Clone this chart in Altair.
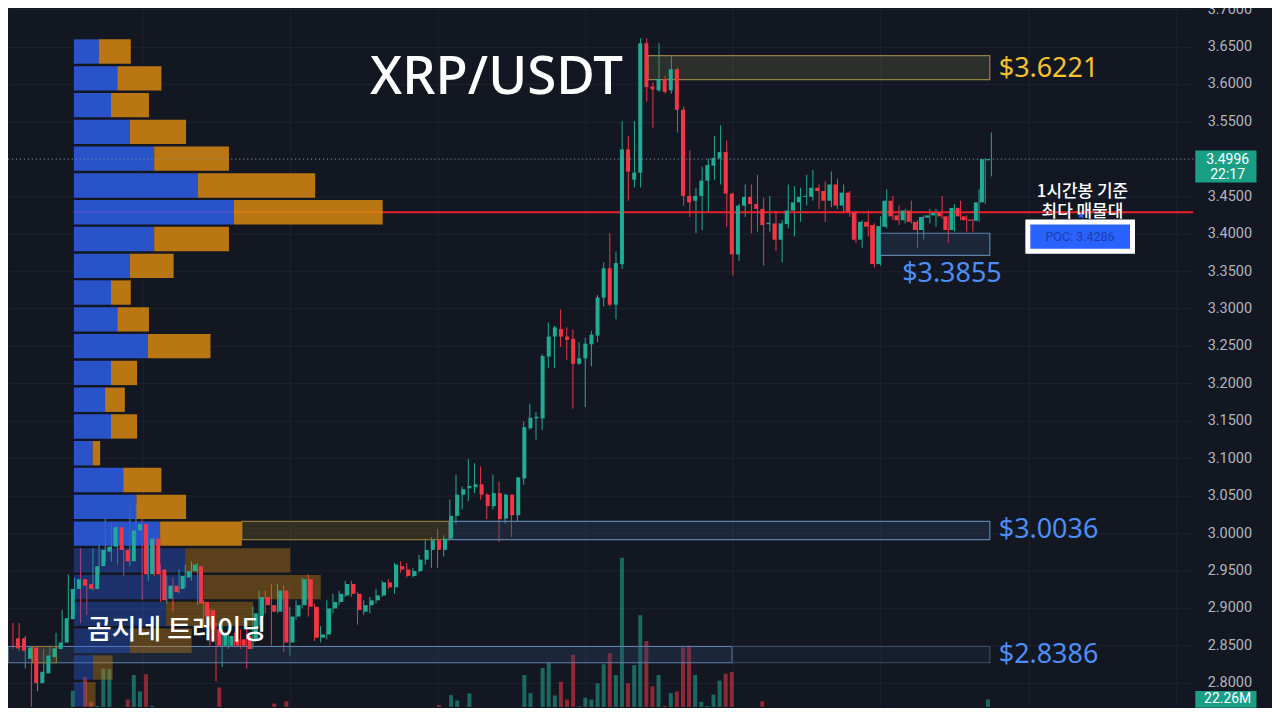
import altair as alt
import pandas as pd

# ---------------- data ----------------
opens = [
    2.8593, 2.8593, 2.8320, 2.8472, 2.7994, 2.8125, 2.8342, 2.8450, 2.8537, 2.8849,
    2.9253, 2.9383, 2.9318, 2.9253, 2.9557, 2.9752, 2.9817, 3.0078, 2.9774, 2.9622,
    3.0034, 3.0121, 2.9448, 2.9926, 2.9513, 2.9123, 2.9296, 2.9253, 2.9405, 2.9492,
    2.9557, 2.9079, 2.8971, 2.8711, 2.8494, 2.8494, 2.8580, 2.8580, 2.8624, 2.8580,
    2.8884, 2.9145, 2.9036, 2.8949, 2.9231, 2.8537, 2.8884, 2.9036, 2.9383, 2.9014,
    2.8602, 2.8645, 2.8993, 2.9079, 2.9166, 2.9318, 2.9188, 2.8949, 2.9036, 2.9101,
    2.9166, 2.9340, 2.9275, 2.9557, 2.9513, 2.9427, 2.9492, 2.9644, 2.9774, 2.9904,
    2.9774, 2.9926, 3.0230, 3.0512, 3.0598, 3.0612, 3.0651, 3.0512, 3.0360, 3.0533,
    3.0195, 3.0512, 3.0238, 3.0729, 3.1401, 3.1532, 3.1532, 3.2356, 3.2625, 3.2725,
    3.2625, 3.2595, 3.2261, 3.2334, 3.2521, 3.2638, 3.3146, 3.3537, 3.3051, 3.3592,
    3.5125, 3.4721, 3.4813, 3.6544, 3.5967, 3.5915, 3.6066, 3.5915, 3.6197, 3.5655,
    3.4504, 3.4439, 3.4504, 3.4708, 3.4908, 3.5004, 3.5090, 3.4535, 3.3723, 3.4374,
    3.4492, 3.4396, 3.4331, 3.4127, 3.4136, 3.3919, 3.4127, 3.4309, 3.4418, 3.4492,
    3.4492, 3.4613, 3.4570, 3.4440, 3.4657, 3.4375, 3.4548, 3.4288, 3.3919, 3.4158,
    3.4114, 3.3593, 3.4092, 3.4440, 3.4244, 3.4179, 3.4309, 3.4158, 3.4049, 3.4214,
    3.4244, 3.4288, 3.4231, 3.4049, 3.4344, 3.4231, 3.4188, 3.4171, 3.4418, 3.4980,
]
highs = [
    2.8797, 2.8797, 2.8624, 2.8480, 2.8277, 2.8450, 2.8494, 2.8667, 2.8971, 2.9448,
    2.9405, 2.9796, 2.9383, 2.9796, 2.9882, 3.0208, 3.0143, 3.0099, 2.9817, 3.0316,
    3.0403, 3.0186, 3.0013, 2.9947, 2.9579, 2.9427, 2.9405, 2.9513, 2.9579, 2.9622,
    2.9600, 2.9101, 2.8993, 2.8797, 2.8797, 2.8754, 2.8667, 2.8711, 2.8797, 2.9014,
    2.9231, 2.9231, 2.9318, 2.9318, 2.9296, 2.9014, 2.9101, 2.9405, 2.9448, 2.9058,
    2.8754, 2.9101, 2.9188, 2.9231, 2.9362, 2.9362, 2.9210, 2.9101, 2.9145, 2.9253,
    2.9362, 2.9383, 2.9600, 2.9622, 2.9600, 2.9535, 2.9709, 2.9926, 2.9947, 3.0056,
    2.9969, 3.0447, 3.0781, 3.0620, 3.0989, 3.0933, 3.0889, 3.0533, 3.0781, 3.0685,
    3.0525, 3.0512, 3.0750, 3.1488, 3.1727, 3.1618, 3.2391, 3.2812, 3.2768, 3.2985,
    3.2747, 3.2716, 3.2551, 3.2608, 3.2703, 3.3181, 3.3615, 3.4005, 3.3762, 3.5503,
    3.5307, 3.5503, 3.6609, 3.6609, 3.6023, 3.6544, 3.6111, 3.6371, 3.6219, 3.5698,
    3.5112, 3.4613, 3.4895, 3.5004, 3.5307, 3.5447, 3.5242, 3.4548, 3.4396, 3.4656,
    3.4657, 3.4787, 3.4483, 3.4505, 3.4309, 3.4179, 3.4657, 3.4635, 3.4613, 3.4787,
    3.4852, 3.4657, 3.4700, 3.4830, 3.4735, 3.4657, 3.4570, 3.4309, 3.4179, 3.4309,
    3.4136, 3.4231, 3.4592, 3.4505, 3.4375, 3.4331, 3.4440, 3.4179, 3.4244, 3.4331,
    3.4331, 3.4505, 3.4244, 3.4396, 3.4440, 3.4244, 3.4201, 3.4592, 3.5004, 3.5351,
]
lows = [
    2.8450, 2.8420, 2.8190, 2.7678, 2.7886, 2.8081, 2.8277, 2.8407, 2.8494, 2.8841,
    2.9188, 2.8797, 2.8906, 2.9231, 2.9448, 2.9622, 2.9622, 2.9579, 2.9427, 2.9557,
    2.9882, 2.9101, 2.9362, 2.9427, 2.9079, 2.9058, 2.8949, 2.9188, 2.9275, 2.9362,
    2.9036, 2.8754, 2.8494, 2.8016, 2.8211, 2.8450, 2.8472, 2.8450, 2.8190, 2.8450,
    2.8754, 2.8927, 2.8494, 2.8927, 2.8407, 2.8363, 2.8841, 2.8993, 2.8884, 2.8559,
    2.8537, 2.8580, 2.8928, 2.9036, 2.9145, 2.9145, 2.8776, 2.8906, 2.8927, 2.9058,
    2.9145, 2.9253, 2.9188, 2.9470, 2.9405, 2.9405, 2.9470, 2.9579, 2.9535, 2.9535,
    2.9687, 2.9904, 3.0121, 3.0316, 3.0425, 3.0533, 3.0447, 3.0186, 3.0316, 2.9882,
    3.0121, 2.9947, 3.0151, 3.0642, 3.1380, 3.1249, 3.1380, 3.2204, 3.2204, 3.2486,
    3.2313, 3.1662, 3.2248, 3.1683, 3.2226, 3.2551, 3.3029, 3.3029, 3.2855, 3.3527,
    3.4439, 3.4617, 3.4617, 3.5763, 3.5415, 3.5893, 3.5871, 3.5871, 3.5350, 3.4374,
    3.4223, 3.4005, 3.4048, 3.4288, 3.4721, 3.4656, 3.4092, 3.3441, 3.3637, 3.4223,
    3.4006, 3.4027, 3.3572, 3.4027, 3.3767, 3.3615, 3.4071, 3.3962, 3.4158, 3.4375,
    3.4440, 3.4331, 3.4158, 3.4353, 3.4331, 3.4288, 3.4223, 3.3875, 3.3810, 3.3962,
    3.3550, 3.3572, 3.4071, 3.4179, 3.4114, 3.4136, 3.4136, 3.3810, 3.3919, 3.4136,
    3.4092, 3.4201, 3.3875, 3.4027, 3.4179, 3.4027, 3.4027, 3.4158, 3.4396, 3.4765,
]
closes = [
    2.8459, 2.8428, 2.8472, 2.7994, 2.8146, 2.8363, 2.8459, 2.8537, 2.8862, 2.9253,
    2.9383, 2.9296, 2.9253, 2.9557, 2.9774, 2.9817, 3.0078, 2.9774, 2.9622, 3.0034,
    3.0121, 2.9448, 2.9926, 2.9448, 2.9101, 2.9296, 2.9210, 2.9427, 2.9492, 2.9579,
    2.9058, 2.8884, 2.8711, 2.8494, 2.8667, 2.8624, 2.8494, 2.8494, 2.8450, 2.8927,
    2.9145, 2.9036, 2.8949, 2.9231, 2.8537, 2.8884, 2.9036, 2.9383, 2.9014, 2.8602,
    2.8645, 2.8993, 2.9079, 2.9188, 2.9318, 2.9188, 2.8971, 2.9036, 2.9101, 2.9166,
    2.9340, 2.9275, 2.9579, 2.9513, 2.9427, 2.9492, 2.9644, 2.9774, 2.9904, 2.9774,
    2.9926, 3.0230, 3.0512, 3.0585, 3.0629, 3.0651, 3.0512, 3.0360, 3.0533, 3.0186,
    3.0512, 3.0238, 3.0742, 3.1414, 3.1540, 3.1553, 3.2365, 3.2625, 3.2747, 3.2625,
    3.2582, 3.2261, 3.2334, 3.2530, 3.2651, 3.3146, 3.3537, 3.3051, 3.3606, 3.5125,
    3.4829, 3.4816, 3.6544, 3.5958, 3.5928, 3.6066, 3.5893, 3.6197, 3.5655, 3.4504,
    3.4418, 3.4504, 3.4708, 3.4917, 3.5012, 3.5090, 3.4535, 3.3723, 3.4374, 3.4491,
    3.4396, 3.4331, 3.4114, 3.4145, 3.3919, 3.4136, 3.4309, 3.4418, 3.4492, 3.4505,
    3.4613, 3.4570, 3.4440, 3.4657, 3.4375, 3.4548, 3.4288, 3.3919, 3.4158, 3.4092,
    3.3593, 3.4101, 3.4440, 3.4231, 3.4179, 3.4309, 3.4158, 3.4049, 3.4223, 3.4244,
    3.4275, 3.4231, 3.4049, 3.4344, 3.4231, 3.4179, 3.4171, 3.4418, 3.4995, 3.4996,
]
volumes_m = [
    0, 0, 0, 0, 0, 0, 0, 0, 0, 48,
    0, 88, 15, 3, 114, 112, 0, 0, 22, 95,
    46, 97, 3, 0, 0, 0, 0, 0, 0, 0,
    0, 0, 0, 58, 0, 0, 0, 0, 0, 0,
    0, 0, 10, 0, 17, 0, 0, 0, 0, 0,
    0, 0, 0, 0, 0, 0, 0, 0, 0, 0,
    0, 0, 0, 0, 0, 0, 0, 0, 0, 6,
    0, 35, 19, 0, 40, 0, 0, 0, 0, 0,
    0, 0, 0, 95, 41, 0, 116, 131, 34, 75,
    22, 155, 2, 27, 22, 70, 127, 160, 95, 444,
    70, 124, 273, 196, 61, 95, 3, 41, 46, 177,
    182, 95, 15, 3, 37, 78, 99, 104, 0, 0,
    0, 0, 17, 0, 0, 0, 0, 0, 0, 0,
    0, 0, 0, 0, 0, 0, 0, 0, 0, 0,
    0, 0, 0, 0, 0, 0, 0, 0, 0, 0,
    0, 0, 0, 0, 0, 0, 0, 0, 0, 22.26,
]

price_ticks = [2.80, 2.85, 2.90, 2.95, 3.00, 3.05, 3.10, 3.15, 3.20, 3.25,
               3.30, 3.35, 3.40, 3.45, 3.50, 3.55, 3.60, 3.65, 3.70]
day_marks = [22, 46, 70, 94, 118, 142, 166, 190]

# visible-range volume profile (rows of price, buy / sell volume)
profile_price = [3.6433, 3.6075, 3.5717, 3.5359, 3.5002, 3.4644, 3.4286, 3.3928,
                 3.3570, 3.3213, 3.2855, 3.2497, 3.2139, 3.1781, 3.1424, 3.1066,
                 3.0708, 3.0350, 2.9992, 2.9635, 2.9277, 2.8919, 2.8561, 2.8203, 2.7845]
profile_buy = [25.3, 44.0, 37.6, 56.6, 81.3, 125.3, 162.0, 81.3, 56.6, 37.6, 44.0, 75.0,
               37.6, 31.6, 37.6, 19.0, 50.0, 63.3, 87.3, 112.6, 131.0, 93.3, 56.6, 19.3, 12.0]
profile_sell = [32.3, 44.6, 38.4, 57.0, 75.7, 119.0, 150.6, 75.7, 44.4, 20.0, 32.0, 63.3,
                26.4, 20.0, 26.4, 7.6, 38.6, 50.3, 82.7, 106.4, 119.0, 88.3, 62.7, 20.0, 10.0]
PROFILE_STEP = 0.03578
POC = 3.4286
VALUE_AREA_LOW = 2.98

last_price = 3.4996
last_volume = 22.26

# drawn zones: start / end bar, top / bottom price
zone_start = [104.2, 141.9, 38.2, 71.9, 0.2, 117.85, 4.2]
zone_end = [159.75, 159.75, 71.9, 159.75, 117.85, 159.75, 8.06]
zone_top = [3.6379, 3.4005, 3.0155, 3.0155, 2.8484, 2.8484, 2.8484]
zone_bottom = [3.6059, 3.3710, 2.9913, 2.9913, 2.8267, 2.8267, 2.8267]
zone_kind = ["gold", "blue", "olive", "blue", "blue", "dim", "olive"]

level_text = ["$3.6221", "$3.3855", "$3.0036", "$2.8386"]
level_bar = [161.2, 145.5, 161.2, 161.2]
level_y = [3.6089, 3.3354, 2.9930, 2.8263]
level_kind = ["gold", "blue", "blue", "blue"]

# ---------------- styling ----------------
BG = "#131722"
GRID = "#1e2230"
UP = "#22ab94"
DOWN = "#f23645"
W, H = 1189, 700

X_DOMAIN = [0.197, 192.81]
Y_DOMAIN = [2.7677, 3.7]
xs = alt.Scale(domain=X_DOMAIN, nice=False, zero=False)
ys = alt.Scale(domain=Y_DOMAIN, nice=False, zero=False)
dir_scale = alt.Scale(domain=["up", "down"], range=[UP, DOWN])


def X(f):
    return alt.X(f, type="quantitative", scale=xs, axis=None)


def Y(f):
    return alt.Y(f, type="quantitative", scale=ys, axis=None)


n = len(opens)
cdf = pd.DataFrame({
    "i": list(range(1, n + 1)),
    "open": opens, "high": highs, "low": lows, "close": closes,
    "volume": volumes_m,
})
cdf["dir"] = ["up" if c >= o else "down" for o, c in zip(opens, closes)]

# volume bars (own scale at the bottom)
vol_scale = alt.Scale(domain=[0, 2076], nice=False, zero=True)
volume = alt.Chart(cdf).mark_bar(size=4, opacity=0.55).encode(
    x=X("i"),
    y=alt.Y("volume:Q", scale=vol_scale, axis=None),
    color=alt.Color("dir:N", scale=dir_scale, legend=None),
)

# zones
zdf = pd.DataFrame({"x0": zone_start, "x1": zone_end, "top": zone_top,
                    "bot": zone_bottom, "kind": zone_kind})
kinds = ["gold", "blue", "olive", "dim"]
zones = alt.Chart(zdf).mark_rect(fillOpacity=0.3, strokeWidth=1.2).encode(
    x=X("x0"), x2="x1", y=Y("top"), y2="bot",
    fill=alt.Fill("kind:N", scale=alt.Scale(domain=kinds,
                  range=["#6a6846", "#2f4a70", "#7a6420", "#22304a"]), legend=None),
    stroke=alt.Stroke("kind:N", scale=alt.Scale(domain=kinds,
                      range=["#938243", "#5f80aa", "#8a7536", "#394c68"]), legend=None),
)

# volume profile
prow = []
for p, b, s in zip(profile_price, profile_buy, profile_sell):
    lo, hi = p - PROFILE_STEP * 0.455, p + PROFILE_STEP * 0.455
    va = "in" if p >= VALUE_AREA_LOW else "out"
    prow.append(dict(side="buy", x0=0, x1=b, lo=lo, hi=hi, va=va))
    prow.append(dict(side="sell", x0=b, x1=b + s, lo=lo, hi=hi, va=va))
pdf = pd.DataFrame(prow)
px = alt.Scale(domain=[-66.7, 1133.3], nice=False, zero=False)

poc_line = alt.Chart(pd.DataFrame({"p": [POC], "a": [0], "b": [1133.3]})).mark_rule(
    color="#e8232b", strokeWidth=2).encode(
    x=alt.X("a:Q", scale=px, axis=None), x2="b", y=Y("p"))

profile = alt.Chart(pdf).mark_rect().encode(
    x=alt.X("x0:Q", scale=px, axis=None), x2="x1",
    y=Y("lo"), y2="hi",
    color=alt.Color("side:N", scale=alt.Scale(domain=["buy", "sell"],
                    range=["#2c5ce0", "#d08410"]), legend=None),
    opacity=alt.Opacity("va:N", scale=alt.Scale(domain=["in", "out"],
                        range=[0.88, 0.38]), legend=None),
)

# candles (this layer also carries the price axis and the grid)
wicks = alt.Chart(cdf).mark_rule(strokeWidth=1).encode(
    x=alt.X("i:Q", scale=xs, axis=alt.Axis(values=day_marks, grid=True, gridColor=GRID,
            labels=False, ticks=False, domain=False, title=None)),
    y=alt.Y("low:Q", scale=ys, axis=alt.Axis(
        orient="right", values=price_ticks, format=".4f", grid=True, gridColor=GRID,
        ticks=False, tickSize=0, domain=False, title=None, labelPadding=14,
        labelColor="#b2b5be", labelFontSize=14.5, labelFont="Roboto",
        # the 3.5000 label sits under the live-price tag, as in the picture
        labelExpr=f"abs(datum.value - {last_price}) < 0.02 ? '' : datum.label")),
    y2="high",
    color=alt.Color("dir:N", scale=dir_scale, legend=None),
)
bodies = alt.Chart(cdf).mark_bar(size=4).encode(
    x=X("i"), y=Y("open"), y2="close",
    color=alt.Color("dir:N", scale=dir_scale, legend=None),
)

last_line = alt.Chart(pd.DataFrame({"p": [last_price]})).mark_rule(
    color="#7d93a6", strokeDash=[1, 3], strokeWidth=1).encode(y=Y("p"))

# texts
ldf = pd.DataFrame({"t": level_text, "i": level_bar, "p": level_y, "k": level_kind})
levels = alt.Chart(ldf).mark_text(align="left", baseline="alphabetic", fontSize=27,
                                  font="Noto Sans").encode(
    x=X("i"), y=Y("p"), text="t:N",
    color=alt.Color("k:N", scale=alt.Scale(domain=["gold", "blue"],
                    range=["#f5c332", "#4d8ef5"]), legend=None),
)

title = alt.Chart(pd.DataFrame({"t": ["XRP/USDT"], "i": [79.57], "p": [3.5867]})).mark_text(
    align="center", baseline="alphabetic", fontSize=53, font="Noto Sans",
    fontWeight=500, color="white").encode(x=X("i"), y=Y("p"), text="t:N")

brand = alt.Chart(pd.DataFrame({"t": ["곰지네 트레이딩"], "i": [13.04], "p": [2.8693]})).mark_text(
    align="left", baseline="middle", fontSize=27, font="Noto Sans CJK KR",
    fontWeight=500, color="white").encode(x=X("i"), y=Y("p"), text="t:N")

note = alt.Chart(pd.DataFrame({"t": ["1시간봉 기준\n최다 매물대"], "i": [174.8],
                               "p": [3.4559]})).mark_text(
    align="center", baseline="middle", fontSize=17, font="Noto Sans CJK KR",
    lineBreak="\n", lineHeight=20,
    fontWeight=500, color="white").encode(x=X("i"), y=Y("p"), text="t:N")

poc_box = alt.Chart(pd.DataFrame({"a": [165.93], "b": [182.94], "t": [3.4155],
                                  "u": [3.3764]})).mark_rect(
    fill="#2962ff", stroke="white", strokeWidth=5).encode(
    x=X("a"), x2="b", y=Y("t"), y2="u")
poc_text = alt.Chart(pd.DataFrame({"t": [f"POC: {POC:.4f}"], "i": [174.4],
                                   "p": [3.3960]})).mark_text(
    align="center", baseline="middle", fontSize=12.5, font="Roboto",
    color="#1d3fae").encode(x=X("i"), y=Y("p"), text="t:N")
poc_mark = alt.Chart(pd.DataFrame({"i": [174.6], "p": [3.4250]})).mark_point(
    shape="triangle-up", size=35, filled=True, color="#2962ff", opacity=1).encode(
    x=X("i"), y=Y("p"))

# right-hand price / volume tags
tag_box = alt.Chart(pd.DataFrame({"a": [193.14], "b": [203.09], "t": [3.5112],
                                  "u": [3.4682]})).mark_rect(fill="#1a9e86").encode(
    x=X("a"), x2="b", y=Y("t"), y2="u")
tag_text = alt.Chart(pd.DataFrame({"t": [f"{last_price:.4f}", "22:17"], "i": [198.4, 198.4],
                                   "p": [3.4982, 3.4786]})).mark_text(
    align="center", baseline="middle", fontSize=14, font="Roboto",
    color="white").encode(x=X("i"), y=Y("p"), text="t:N")

vtag = pd.DataFrame({"a": [193.14], "b": [203.09], "v": [last_volume],
                     "t": [last_volume + 24.7], "u": [last_volume - 24.7],
                     "s": [f"{last_volume:.2f}M"], "i": [198.4]})
vtag_box = alt.Chart(vtag).mark_rect(fill="#1a9e86").encode(
    x=X("a"), x2="b", y=alt.Y("t:Q", scale=vol_scale, axis=None), y2="u")
vtag_text = alt.Chart(vtag).mark_text(align="center", baseline="middle", fontSize=14,
                                      font="Roboto", color="white").encode(
    x=X("i"), y=alt.Y("v:Q", scale=vol_scale, axis=None), text="s:N")

chart = alt.layer(
    wicks, volume, zones, poc_line, profile, bodies, last_line,
    levels, title, brand, note, poc_box, poc_text, poc_mark,
    tag_box, tag_text, vtag_box, vtag_text,
).resolve_scale(
    x="independent", y="independent", color="independent",
    fill="independent", stroke="independent", opacity="independent",
).properties(
    width=W, height=H, background=BG,
    autosize=alt.AutoSizeParams(type="none"),
    padding={"left": 0, "top": 0, "right": 79, "bottom": 0},
).configure_view(stroke=None)

chart.save("out.html", embed_options={"renderer": "svg", "actions": False})
